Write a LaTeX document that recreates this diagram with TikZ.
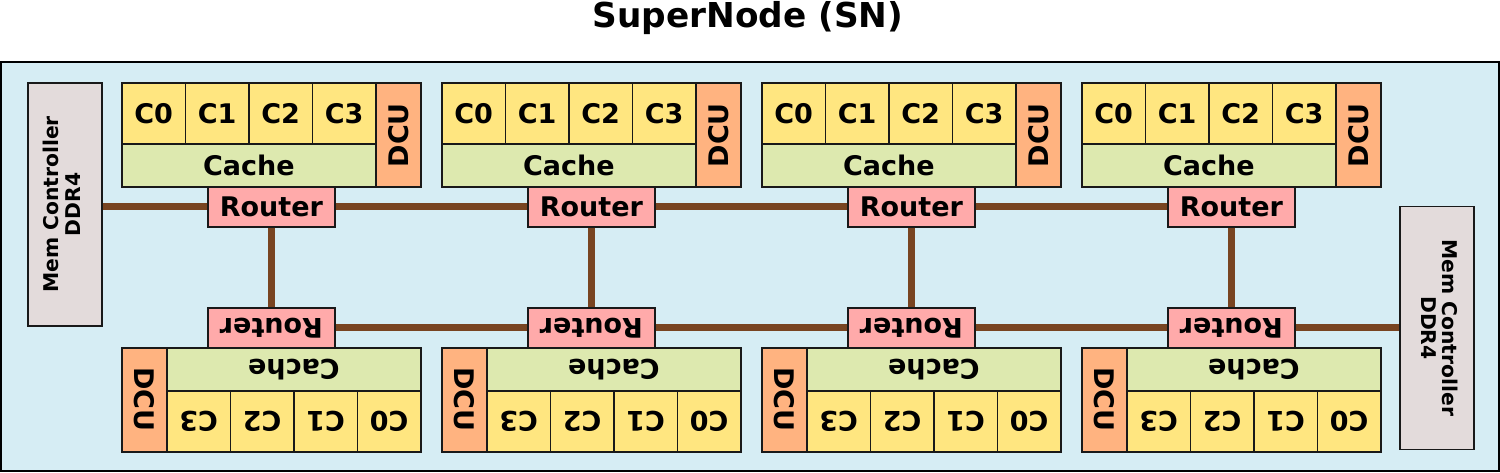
\documentclass[tikz,border=0pt]{standalone}
\usepackage{fontspec}
\setmainfont{DejaVu Sans}
\usepackage{graphicx}
\usepackage{tikz}
\usetikzlibrary{calc}
\definecolor{snback}{HTML}{D6EDF4}
\definecolor{coreyel}{HTML}{FFE680}
\definecolor{cachegrn}{HTML}{DDE9AF}
\definecolor{dcuorg}{HTML}{FFB380}
\definecolor{routpink}{HTML}{FFAAAA}
\definecolor{memgray}{HTML}{E3DBDB}
\definecolor{wirebrown}{HTML}{784421}
\newcommand\memlabel{\begin{tabular}{@{}c@{}}Mem Controller\\DDR4\end{tabular}}
\tikzset{
  blk/.style={draw=black!90,line width=1.8pt,inner sep=0pt,anchor=north west,font=\fontsize{27}{27}\selectfont\bfseries},
  corebox/.style={blk,fill=coreyel,minimum width=63.5pt,minimum height=60.4pt},
  cachebox/.style={blk,fill=cachegrn,minimum width=254pt,minimum height=43.6pt},
  dcubox/.style={blk,fill=dcuorg,minimum width=45pt,minimum height=104pt},
  routerbox/.style={blk,fill=routpink,minimum width=127pt,minimum height=39.4pt},
  membox/.style={blk,fill=memgray,minimum width=74pt,minimum height=243pt,font=\fontsize{20.3}{21}\selectfont\bfseries},
  wire/.style={draw=wirebrown,line width=7pt}
}
\begin{document}
\begin{tikzpicture}[line cap=butt,line join=miter,x=1pt,y=-1pt]
\useasboundingbox (0,0) rectangle (1500,472);
\node[anchor=base,font=\fontsize{34.3}{34}\selectfont\bfseries] (title) at (748,27) {SuperNode (SN)};
\draw [line width=2.2pt,fill=snback] (1.3,62) rectangle (1498.7,470.7);
\node[membox] (mcl) at (27,82) {\rotatebox{90}{\memlabel}};
\node[membox] (mcr) at (1399,205.5) {\rotatebox{-90}{\memlabel}};
\foreach \k in {0,...,3}{
  \pgfmathsetmacro\dx{320*\k}
  % upper tile
  \foreach \j in {0,...,3}
    \node[corebox] (tc\k\j) at ({121+\dx+63.5*\j},82.3) {C\j};
  \node[cachebox] (tca\k) at ({121+\dx},142.7) {Cache};
  \node[dcubox] (td\k) at ({375+\dx},82.3) {\rotatebox{90}{DCU}};
  \node[routerbox] (tr\k) at ({207+\dx},186.3) {Router};
  % lower tile, turned round
  \foreach \j in {0,...,3}
    \node[corebox] (bc\k\j) at ({356.5+\dx-63.5*\j},390.3) {\rotatebox{180}{C\j}};
  \node[cachebox] (bca\k) at ({166+\dx},346.7) {\rotatebox{180}{Cache}};
  \node[dcubox] (bd\k) at ({121+\dx},346.7) {\rotatebox{-90}{DCU}};
  \node[routerbox] (br\k) at ({207+\dx},307.3) {\rotatebox{180}{Router}};
  \draw [wire] (tr\k.south) -- (br\k.north);
}
\draw [wire] (mcl.east |- tr0.west) -- (tr0.west);
\foreach \a/\b in {0/1,1/2,2/3}{
  \draw [wire] (tr\a.east) -- (tr\b.west);
  \draw [wire] (br\a.east) -- (br\b.west);
}
\draw [wire] (br3.east) -- (mcr.west |- br3.east);
\end{tikzpicture}
\end{document}
